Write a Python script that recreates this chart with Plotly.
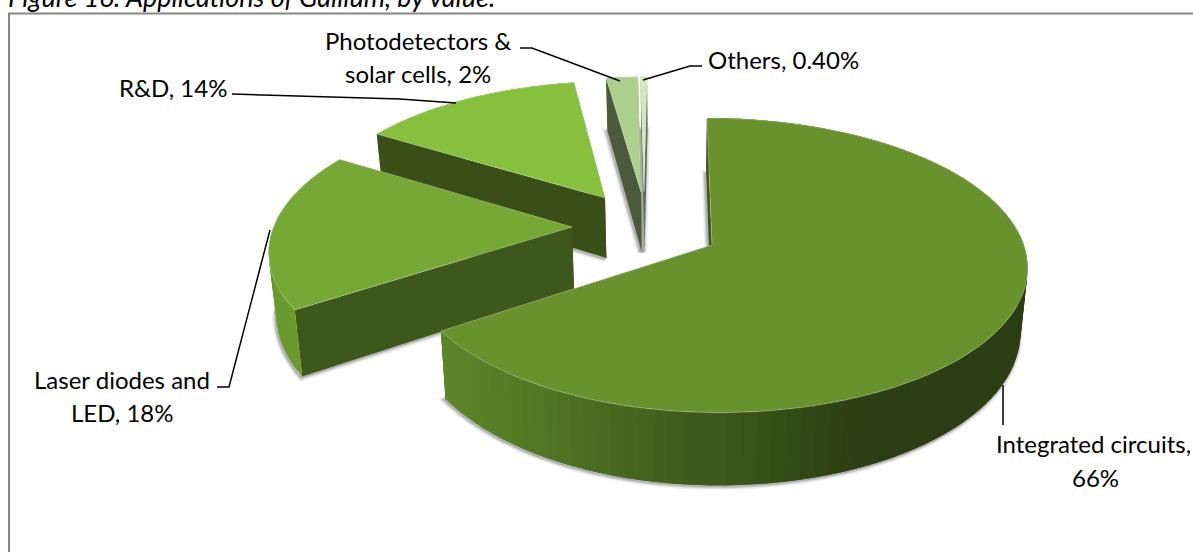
import numpy as np
import plotly.graph_objects as go

# ---- chart data ----
categories = ["Integrated circuits", "Laser diodes and LED", "R&D",
              "Photodetectors & solar cells", "Others"]
values = [66, 18, 14, 2, 0.4]

# ---- style / layout (pixels) ----
top_colors = ["#67922D", "#77A836", "#87C03D", "#ADD08F", "#D3E8C2"]
face_colors = ["#3E571B", "#3E571B", "#3A4F18", "#4B5B3A", "#5C6C50"]
rim_colors = [None, "#6A9A2E", "#6F9F30", "#8FAF70", "#B0C8A0"]
tips_x = [712, 572, 605, 641, 644]
tips_y = [245, 227, 198, 192, 192]
VX, VY, F_RIGHT, F_LEFT, H, K = 670, 232, 308, 300, 141, 0.136
DEPTH, XSHRINK = 62, 0.98
FONT = "Lato"
FS = 24


def proj(X, Y):
    s = 1 / (1 + K * Y)
    return VX + X * s, VY - H * Y * s, s


def down(sx, sy, s):
    return VX + (sx - VX) * XSHRINK, sy + DEPTH * s


def tip_world(tx, ty):
    a = VY - ty
    w = a / (H - a * K)
    s = 1 / (1 + K * w)
    return (tx - VX) / s, w


def big_rim_color(x):
    stops = [445, 520, 630, 720, 800, 860, 1030]
    r = [0x5E, 0x55, 0x47, 0x3E, 0x33, 0x2C, 0x2C]
    g = [0x88, 0x7C, 0x69, 0x59, 0x4A, 0x3E, 0x3E]
    b = [0x2A, 0x26, 0x20, 0x1B, 0x16, 0x13, 0x13]
    return "rgb(%d,%d,%d)" % (np.interp(x, stops, r), np.interp(x, stops, g), np.interp(x, stops, b))


fig = go.Figure()


def poly(xs, ys, fill, line=None, width=0.0):
    fig.add_trace(go.Scatter(x=list(xs), y=list(ys), mode="lines", fill="toself", fillcolor=fill,
                             line=dict(color=line or fill, width=width), hoverinfo="skip",
                             showlegend=False))


def path(xs, ys, color, width):
    fig.add_trace(go.Scatter(x=list(xs), y=list(ys), mode="lines", line=dict(color=color, width=width),
                             hoverinfo="skip", showlegend=False))


total = sum(values)
starts = np.cumsum([0] + values[:-1]) / total * 2 * np.pi
sweeps = np.array(values) / total * 2 * np.pi

# painter's order: farthest slice first
for i in [4, 3, 2, 1, 0]:
    X0, Y0 = tip_world(tips_x[i], tips_y[i])
    n = max(4, int(sweeps[i] / (2 * np.pi) * 150))
    th = np.linspace(starts[i], starts[i] + sweeps[i], n + 1)
    sin_th = np.sin(th)
    ax = X0 + sin_th * np.where(sin_th > 0, F_RIGHT, F_LEFT)
    ay = Y0 + np.cos(th)
    tx, ty, ts = proj(ax, ay)
    bx, by = down(tx, ty, ts)
    cx, cy, cs = proj(X0, Y0)
    cbx, cby = down(cx, cy, cs)

    # soft shadow round the lower face
    sx = np.r_[cbx, bx, cbx]
    sy = np.r_[cby, by, cby]
    for w, op in ((7, 0.10), (4, 0.16), (2, 0.22)):
        path(sx - 1, sy + 1, "rgba(70,70,70,%.2f)" % op, w)

    # side walls: each segment overlaps the next so no seams appear
    parts = []
    for j in range(n):
        k = min(j + 2, n)
        col = big_rim_color((tx[j] + tx[j + 1]) / 2) if i == 0 else rim_colors[i]
        parts.append((ay[j], [tx[j], tx[k], bx[k], bx[j]], [ty[j], ty[k], by[k], by[j]], col))
    parts.append((Y0 + np.cos(th[0]) / 2, [cx, tx[0], bx[0], cbx], [cy, ty[0], by[0], cby], face_colors[i]))
    parts.append((Y0 + np.cos(th[-1]) / 2, [cx, tx[-1], bx[-1], cbx], [cy, ty[-1], by[-1], cby], face_colors[i]))
    for _, xs, ys, col in sorted(parts, key=lambda p: -p[0]):
        poly(xs, ys, col)

    # top surface
    poly(np.r_[cx, tx, cx], np.r_[cy, ty, cy], top_colors[i], "rgba(225,235,210,0.6)", 0.6)

# chart frame (runs off the right and bottom edges of the page)
shapes = [dict(type="rect", x0=9, y0=13.5, x1=1300, y1=700, line=dict(color="#868686", width=2),
               fillcolor="rgba(0,0,0,0)", layer="below")]

# leader lines
leaders = [
    ([232, 400, 456], [94, 99, 103]),
    ([520, 532, 620], [48, 48, 81]),
    ([702, 690, 643], [66, 66, 80]),
    ([217, 229, 270], [387, 387, 230]),
    ([1003, 1003], [385, 425]),
]
for xs, ys in leaders:
    path(xs, ys, "#000000", 1.5)

# labels, placed line by line
label_lines = [
    ("Integrated circuits,", 1093, 443),
    ("66%", 1095, 477),
    ("Laser diodes and", 122, 379),
    ("LED, 18%", 122, 412),
    ("R&D, 14%", 173, 87),
    ("Photodetectors &", 418, 40),
    ("solar cells, 2%", 418, 73),
    ("Others, 0.40%", 783, 59),
]
annotations = [dict(x=x, y=y, text=t, showarrow=False, xanchor="center", yanchor="middle",
                    font=dict(family=FONT, size=FS, color="#000000")) for t, x, y in label_lines]
annotations.append(dict(x=6, y=0, yshift=4, text="<i>Figure 16: Applications of Gallium, by value.</i>",
                        showarrow=False, xanchor="left", yanchor="middle",
                        font=dict(family=FONT, size=27, color="#000000")))

fig.update_layout(
    width=1193, height=552, margin=dict(l=0, r=0, t=0, b=0),
    paper_bgcolor="white", plot_bgcolor="white", showlegend=False,
    xaxis=dict(range=[0, 1193], visible=False, fixedrange=True),
    yaxis=dict(range=[552, 0], visible=False, fixedrange=True),
    shapes=shapes, annotations=annotations,
)
fig.write_html("out.html", config={"displayModeBar": False},
               post_script="document.documentElement.style.overflow='hidden';document.body.style.margin='0';")
